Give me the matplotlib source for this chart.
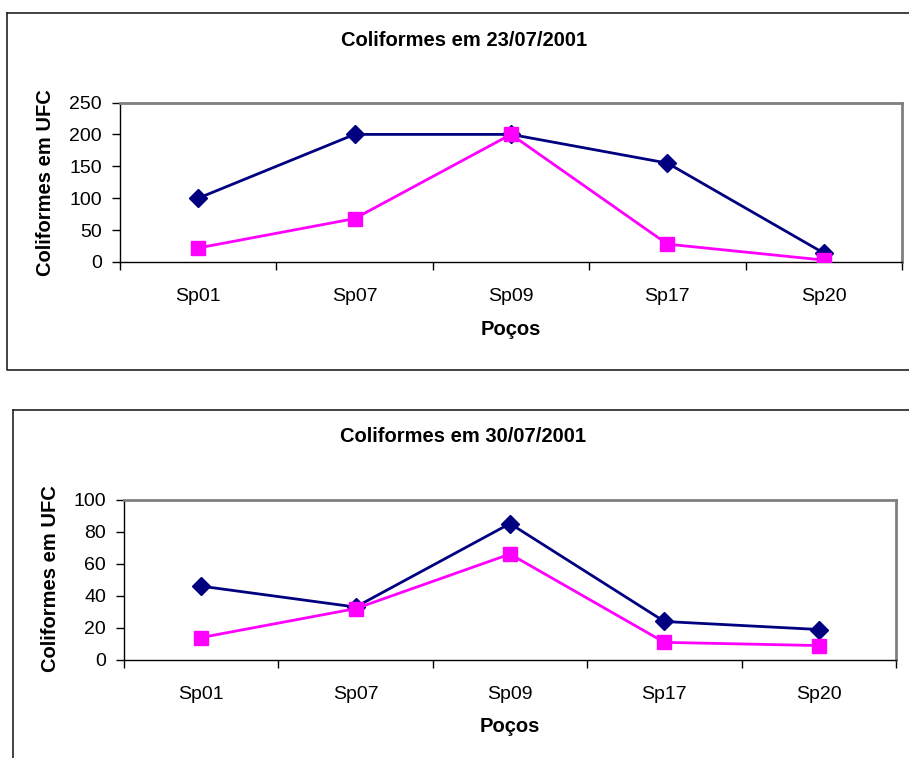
import matplotlib
matplotlib.use("Agg")
import matplotlib.pyplot as plt
from matplotlib.lines import Line2D
from matplotlib.ticker import FixedLocator, NullFormatter, FixedFormatter

plt.rcParams['font.family'] = ['Liberation Sans', 'DejaVu Sans']

# Wells sampled
wells = ["Sp01", "Sp07", "Sp09", "Sp17", "Sp20"]

# Coliform counts (UFC), 23/07/2001
jul23_series_a = [100, 200, 200, 155, 14]
jul23_series_b = [22, 68, 200, 28, 3]

# Coliform counts (UFC), 30/07/2001
jul30_series_a = [46, 33, 85, 24, 19]
jul30_series_b = [14, 32, 66, 11, 9]

titles = ["Coliformes em 23/07/2001", "Coliformes em 30/07/2001"]
y_ticks = [[0, 50, 100, 150, 200, 250], [0, 20, 40, 60, 80, 100]]
x_title = "Poços"
y_title = "Coliformes em UFC"

W, H = 909, 758
fig = plt.figure(figsize=(W / 100, H / 100), dpi=100)


def fx(px):
    return px / W


def fy(py):
    return 1 - py / H


def panel(box, a, b, ticks, title, title_xy, xlab_xy, ylab_xy):
    left, top, right, bottom = box
    ax = fig.add_axes([fx(left), fy(bottom), fx(right) - fx(left), fy(top) - fy(bottom)])
    x = list(range(len(wells)))
    ax.plot(x, a, color="#000080", lw=2.0, marker="D", ms=9, zorder=3,
            solid_joinstyle="miter")
    ax.plot(x, b, color="#FF00FF", lw=2.0, marker="s", ms=10, zorder=4)
    ax.set_xlim(-0.5, len(wells) - 0.5)
    ax.set_ylim(ticks[0], ticks[-1])
    ax.set_yticks(ticks)
    ax.tick_params(axis="y", direction="out", length=6, width=1, pad=7,
                   labelsize=14, colors="black")
    # category boundaries carry the tick marks, names sit between them
    ax.xaxis.set_major_locator(FixedLocator([i - 0.5 for i in range(len(wells) + 1)]))
    ax.xaxis.set_major_formatter(NullFormatter())
    ax.xaxis.set_minor_locator(FixedLocator(x))
    ax.xaxis.set_minor_formatter(FixedFormatter(wells))
    ax.tick_params(axis="x", which="major", direction="out", length=6, width=1)
    ax.tick_params(axis="x", which="minor", length=0, pad=19, labelsize=14)
    for s in ("left", "bottom"):
        ax.spines[s].set_color("black")
        ax.spines[s].set_linewidth(1.0)
    for s in ("top", "right"):
        ax.spines[s].set_color("#808080")
        ax.spines[s].set_linewidth(2.0)
    fig.text(fx(title_xy[0]), fy(title_xy[1]), title, ha="center", va="center",
             fontsize=14.5, fontweight="bold")
    fig.text(fx(xlab_xy[0]), fy(xlab_xy[1]), x_title, ha="center", va="center",
             fontsize=14.5, fontweight="bold")
    fig.text(fx(ylab_xy[0]), fy(ylab_xy[1]), y_title, ha="center", va="center",
             rotation=90, fontsize=14.5, fontweight="bold")
    return ax


panel((120, 102.5, 902, 262), jul23_series_a, jul23_series_b, y_ticks[0], titles[0],
      (464, 40), (511, 329), (46, 183))
panel((124, 499.5, 896, 660), jul30_series_a, jul30_series_b, y_ticks[1], titles[1],
      (463, 437), (510, 727), (51, 579))

# chart frames
border = dict(color="#222222", lw=1.2, transform=fig.transFigure)
fig.add_artist(Line2D([fx(7.5), fx(7.5), fx(W + 5)], [fy(12.5), fy(370), fy(370)], **border))
fig.add_artist(Line2D([fx(7.5), fx(W + 5)], [fy(12.5), fy(12.5)], **border))
fig.add_artist(Line2D([fx(13), fx(13)], [fy(H + 5), fy(410.5)], **border))
fig.add_artist(Line2D([fx(13), fx(W + 5)], [fy(410.5), fy(410.5)], **border))

fig.savefig("out.png", dpi=100)
